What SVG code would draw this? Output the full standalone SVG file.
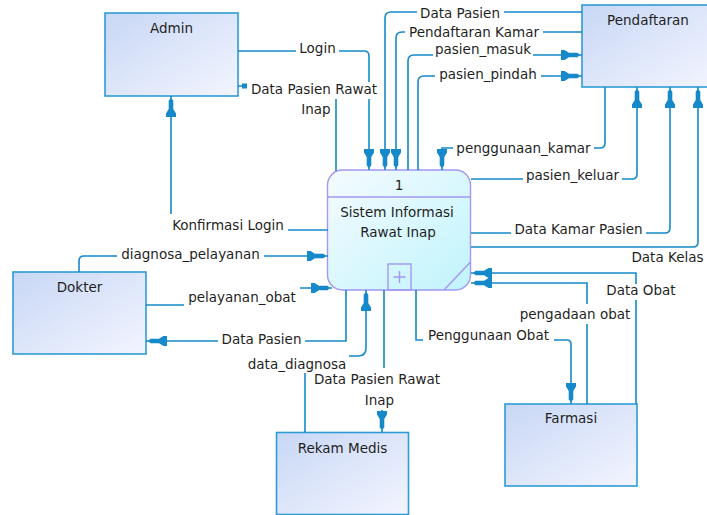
<svg xmlns="http://www.w3.org/2000/svg" width="707" height="515" viewBox="0 0 707 515">
  <defs>
    <linearGradient id="entityFill" x1="0" y1="0" x2="1" y2="1">
      <stop offset="0" stop-color="#c8d7f5"/>
      <stop offset="1" stop-color="#f3f5ff"/>
    </linearGradient>
    <linearGradient id="processFill" x1="0" y1="0" x2="1" y2="1">
      <stop offset="0" stop-color="#f5fbff"/>
      <stop offset="1" stop-color="#c0f4fc"/>
    </linearGradient>
    <marker id="arrow" markerUnits="userSpaceOnUse" viewBox="0 -5.5 21 11" markerWidth="21" markerHeight="11" refX="21" refY="0" orient="auto">
      <path d="M0,-5 L3.5,-5 L8,-2.3 L16.5,-2.3 L19,0 L16.5,2.3 L8,2.3 L3.5,5 L0,5 Z" fill="#1589c9"/>
    </marker>
    <marker id="stub" markerUnits="userSpaceOnUse" viewBox="-10 -3 10 6" markerWidth="10" markerHeight="6" refX="0" refY="0" orient="auto">
      <rect x="-9" y="-2.5" width="5" height="5" fill="#1589c9"/>
    </marker>
  </defs>
  <style>
    .entity rect { fill: url(#entityFill); stroke: #2d9bd6; stroke-width: 1.6; }
    .process .shape { fill: url(#processFill); stroke: #a397f2; stroke-width: 1.4; }
    .process .deco { fill: none; stroke: #a397f2; stroke-width: 1.4; }
    text { font-family: "DejaVu Sans", "Liberation Sans", sans-serif; font-size: 13.5px; fill: #1f1f1f; text-anchor: middle; }
    .flow { fill: none; stroke: #1589c9; stroke-width: 1.6; }
    .to { marker-end: url(#arrow); }
    .bg { fill: #ffffff; }
  </style>

  <rect width="707" height="515" fill="#ffffff"/>

  <!-- external entities -->
  <g id="admin" class="entity">
    <rect x="105" y="13" width="133" height="83"/>
    <text x="171.5" y="33">Admin</text>
  </g>
  <g id="pendaftaran" class="entity">
    <rect x="582" y="5" width="133" height="82"/>
    <text x="648" y="25">Pendaftaran</text>
  </g>
  <g id="dokter" class="entity">
    <rect x="13" y="272" width="133" height="82"/>
    <text x="79.5" y="292">Dokter</text>
  </g>
  <g id="rekam-medis" class="entity">
    <rect x="276.5" y="432.5" width="132" height="82"/>
    <text x="342.5" y="452.5">Rekam Medis</text>
  </g>
  <g id="farmasi" class="entity">
    <rect x="505" y="404" width="132" height="82"/>
    <text x="571" y="423">Farmasi</text>
  </g>

  <!-- process 1 -->
  <g id="process-1" class="process">
    <rect class="shape" x="327.5" y="170" width="143" height="120" rx="15" ry="15"/>
    <line class="deco" x1="327.5" y1="197" x2="470.5" y2="197"/>
    <rect class="deco" x="388" y="264" width="23" height="26"/>
    <path class="deco" d="M399.5,271 V283 M393.5,277 H405.5"/>
    <line class="deco" x1="470.5" y1="262" x2="444" y2="290"/>
    <text x="399" y="189.5">1</text>
    <text x="397" y="216.5">Sistem Informasi</text>
    <text x="398" y="236.5">Rawat Inap</text>
  </g>

  <!-- data flows -->
  <g id="connectors">
    <g id="flow-lines">
      <path class="flow to" d="M238,51 H364 Q369,51 369,56 V170"/>
      <path class="flow" marker-end="url(#stub)" d="M336,171 V91 Q336,86 331,86 H238"/>
      <path class="flow to" d="M582,12 H391 Q385,12 385,18 V170"/>
      <path class="flow to" d="M582,32 H402 Q396,32 396,38 V170"/>
      <path class="flow to" d="M408,170 V61 Q408,55 414,55 H582"/>
      <path class="flow to" d="M418,170 V82 Q418,76 424,76 H582"/>
      <path class="flow to" d="M605,87 V143 Q605,148 600,148 H442 V170"/>
      <path class="flow to" d="M471,179 H632 Q637,179 637,174 V87"/>
      <path class="flow to" d="M471,233 H665 Q670,233 670,228 V87"/>
      <path class="flow to" d="M471,247 H693 Q698,247 698,242 V87"/>
      <path class="flow to" d="M636,404 V273 H471"/>
      <path class="flow to" d="M587,404 V283 H471"/>
      <path class="flow to" d="M416,290 V340 H567 Q571,340 571,344 V404"/>
      <path class="flow to" d="M346,290 V341 H146"/>
      <path class="flow to" d="M305,432 V361 Q305,356 310,356 H358 Q366,356 366,348 V290"/>
      <path class="flow to" d="M384,290 V398 H382 V432"/>
      <path class="flow to" d="M328,230 H176 Q171,230 171,225 V96"/>
      <path class="flow to" d="M79,272 V261 Q79,256 84,256 H328"/>
      <path class="flow to" d="M146,305 H242 V288 H332"/>
    </g>
    <g id="flow-labels">
      <rect class="bg" x="296" y="42" width="43" height="15"/>
      <rect class="bg" x="247" y="82" width="133" height="17"/>
      <rect class="bg" x="417" y="5" width="87" height="15"/>
      <rect class="bg" x="405" y="25" width="138" height="15"/>
      <rect class="bg" x="433" y="45" width="100" height="14"/>
      <rect class="bg" x="435" y="68" width="106" height="15"/>
      <rect class="bg" x="453" y="141" width="141" height="15"/>
      <rect class="bg" x="523" y="170" width="99" height="14"/>
      <rect class="bg" x="511" y="224" width="135" height="14"/>
      <rect class="bg" x="604" y="284" width="74" height="16"/>
      <rect class="bg" x="516" y="304" width="118" height="20"/>
      <rect class="bg" x="423" y="330" width="131" height="14"/>
      <rect class="bg" x="168" y="214" width="120" height="20"/>
      <rect class="bg" x="117" y="248" width="147" height="14"/>
      <rect class="bg" x="184" y="286" width="116" height="22"/>
      <rect class="bg" x="218" y="334" width="87" height="14"/>
      <rect class="bg" x="245" y="355" width="104" height="18"/>
      <rect class="bg" x="311" y="368" width="133" height="20"/>
      <rect class="bg" x="362" y="388" width="36" height="22"/>

      <text x="317.5" y="53">Login</text>
      <text x="314" y="94">Data Pasien Rawat</text>
      <text x="316" y="114">Inap</text>
      <text x="460" y="18">Data Pasien</text>
      <text x="474" y="37">Pendaftaran Kamar</text>
      <text x="483" y="53.5">pasien_masuk</text>
      <text x="488" y="79">pasien_pindah</text>
      <text x="523.5" y="153">penggunaan_kamar</text>
      <text x="572.5" y="180">pasien_keluar</text>
      <text x="578.5" y="234">Data Kamar Pasien</text>
      <text x="667.5" y="261.5">Data Kelas</text>
      <text x="641" y="295">Data Obat</text>
      <text x="575" y="318.5">pengadaan obat</text>
      <text x="488.5" y="340">Penggunaan Obat</text>
      <text x="228" y="230">Konfirmasi Login</text>
      <text x="190.5" y="258.5">diagnosa_pelayanan</text>
      <text x="242" y="302">pelayanan_obat</text>
      <text x="261.5" y="344">Data Pasien</text>
      <text x="297" y="368.5">data_diagnosa</text>
      <text x="377" y="383.5">Data Pasien Rawat</text>
      <text x="379.5" y="405">Inap</text>
    </g>
  </g>
</svg>
